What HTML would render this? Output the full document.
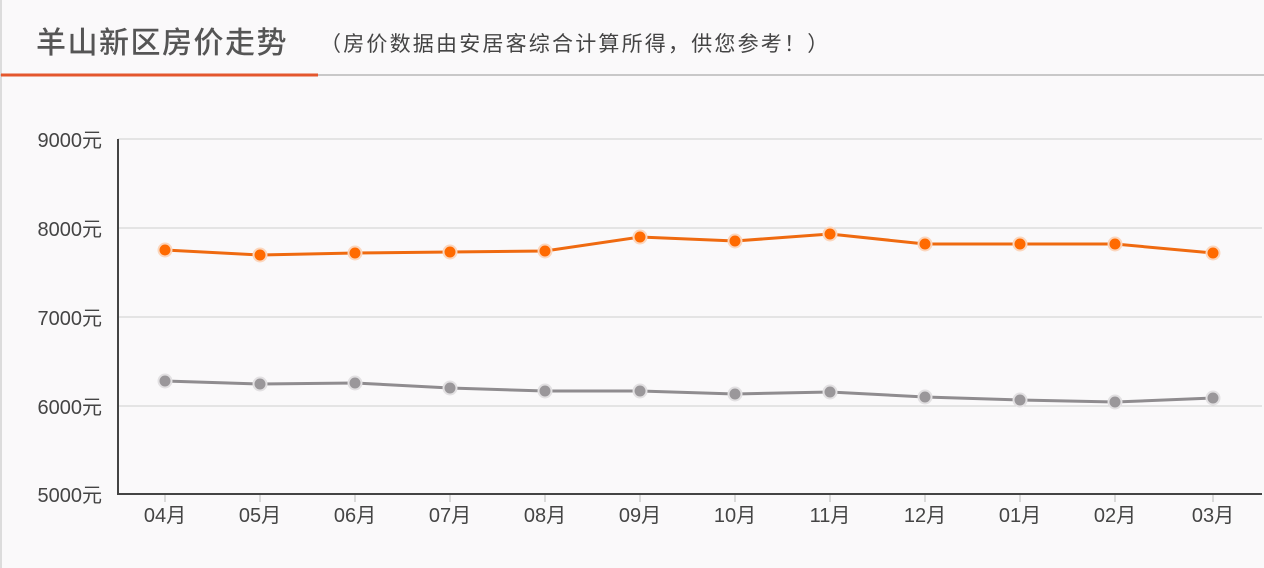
<!DOCTYPE html>
<html><head><meta charset="utf-8"><style>
html,body{margin:0;padding:0;background:#faf9fa;}
svg{display:block;}
text{font-family:"Liberation Sans","Noto Sans CJK SC",sans-serif;}
</style></head><body>
<svg width="1264" height="568" xmlns="http://www.w3.org/2000/svg">
<rect width="1264" height="568" fill="#faf9fa"/>
<line x1="1" y1="0" x2="1" y2="568" stroke="#dcdcdc" stroke-width="2"/>
<text x="36" y="53" font-size="30" fill="#555" font-weight="500" letter-spacing="1.5" font-family="Noto Sans CJK SC,sans-serif">羊山新区房价走势</text>
<text x="320" y="51" font-size="21" fill="#444" letter-spacing="2.2" font-family="Noto Sans CJK SC,sans-serif">（房价数据由安居客综合计算所得，供您参考！）</text>
<line x1="0" y1="75" x2="1264" y2="75" stroke="#c8c8c8" stroke-width="2"/>
<line x1="1" y1="75" x2="318" y2="75" stroke="#e4572e" stroke-width="3"/>
<g stroke="#cfcfcf" stroke-width="1">
<line x1="118" y1="139" x2="1262" y2="139"/>
<line x1="118" y1="228" x2="1262" y2="228"/>
<line x1="118" y1="317" x2="1262" y2="317"/>
<line x1="118" y1="406" x2="1262" y2="406"/>
</g>
<polyline points="118,139 118,494 1262,494" fill="none" stroke="#444" stroke-width="2"/>
<g font-size="20" fill="#444" text-anchor="end">
<text x="102" y="147">9000元</text>
<text x="102" y="236">8000元</text>
<text x="102" y="325">7000元</text>
<text x="102" y="414">6000元</text>
<text x="102" y="502">5000元</text>
</g>
<g font-size="20" fill="#444" text-anchor="middle">
<text x="165" y="522">04月</text><text x="260" y="522">05月</text><text x="355" y="522">06月</text>
<text x="450" y="522">07月</text><text x="545" y="522">08月</text><text x="640" y="522">09月</text>
<text x="735" y="522">10月</text><text x="830" y="522">11月</text><text x="925" y="522">12月</text>
<text x="1020" y="522">01月</text><text x="1115" y="522">02月</text><text x="1213" y="522">03月</text>
</g>
<g stroke="#bbb" stroke-width="1">
<line x1="165" y1="495" x2="165" y2="502"/><line x1="260" y1="495" x2="260" y2="502"/><line x1="355" y1="495" x2="355" y2="502"/>
<line x1="450" y1="495" x2="450" y2="502"/><line x1="545" y1="495" x2="545" y2="502"/><line x1="640" y1="495" x2="640" y2="502"/>
<line x1="735" y1="495" x2="735" y2="502"/><line x1="830" y1="495" x2="830" y2="502"/><line x1="925" y1="495" x2="925" y2="502"/>
<line x1="1020" y1="495" x2="1020" y2="502"/><line x1="1115" y1="495" x2="1115" y2="502"/><line x1="1213" y1="495" x2="1213" y2="502"/>
</g>
<polyline fill="none" stroke="#ef6a10" stroke-width="3" points="165,250 260,255 355,253 450,252 545,251 640,237 735,241 830,234 925,244 1020,244 1115,244 1213,253"/>
<g fill="#ff6a00" stroke="#fbd6bd" stroke-width="2">
<circle cx="165" cy="250" r="6.5"/><circle cx="260" cy="255" r="6.5"/><circle cx="355" cy="253" r="6.5"/><circle cx="450" cy="252" r="6.5"/>
<circle cx="545" cy="251" r="6.5"/><circle cx="640" cy="237" r="6.5"/><circle cx="735" cy="241" r="6.5"/><circle cx="830" cy="234" r="6.5"/>
<circle cx="925" cy="244" r="6.5"/><circle cx="1020" cy="244" r="6.5"/><circle cx="1115" cy="244" r="6.5"/><circle cx="1213" cy="253" r="6.5"/>
</g>
<polyline fill="none" stroke="#8f8c8f" stroke-width="3" points="165,381 260,384 355,383 450,388 545,391 640,391 735,394 830,392 925,397 1020,400 1115,402 1213,398"/>
<g fill="#9a979a" stroke="#e2e0e2" stroke-width="2">
<circle cx="165" cy="381" r="6.5"/><circle cx="260" cy="384" r="6.5"/><circle cx="355" cy="383" r="6.5"/><circle cx="450" cy="388" r="6.5"/>
<circle cx="545" cy="391" r="6.5"/><circle cx="640" cy="391" r="6.5"/><circle cx="735" cy="394" r="6.5"/><circle cx="830" cy="392" r="6.5"/>
<circle cx="925" cy="397" r="6.5"/><circle cx="1020" cy="400" r="6.5"/><circle cx="1115" cy="402" r="6.5"/><circle cx="1213" cy="398" r="6.5"/>
</g>
</svg>
</body></html>
